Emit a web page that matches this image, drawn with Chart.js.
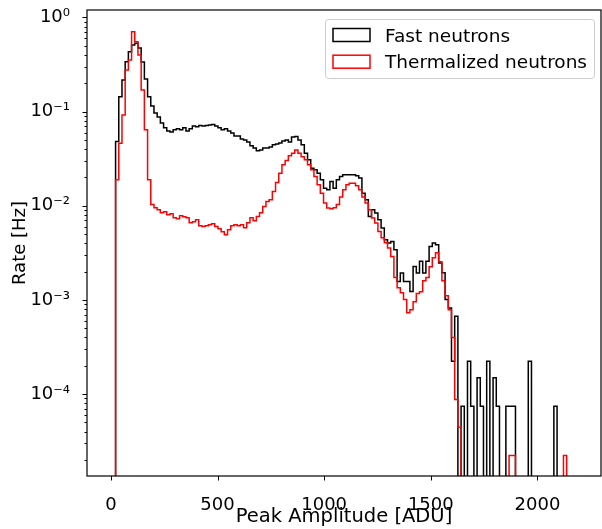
<!DOCTYPE html>
<html>
<head>
<meta charset="utf-8">
<script src="https://cdn.jsdelivr.net/npm/chart.js@4.4.0/dist/chart.umd.min.js"></script>
<style>
  html, body { margin: 0; padding: 0; background: #ffffff; }
</style>
</head>
<body>
<canvas id="grafico" width="602" height="529"></canvas>
<script>
// histogram bins (ADU) and rates (Hz)
var binStart = 22
var binWidth = 15

var fastRate = [
  0.0481, 0.144, 0.217, 0.339, 0.433, 0.510, 0.531, 0.474, 0.337, 0.222,
  0.144, 0.115, 0.0969, 0.0879, 0.0759, 0.0672, 0.0624, 0.0609, 0.0640, 0.0656,
  0.0640, 0.0672, 0.0624, 0.0656, 0.0705, 0.0689, 0.0714, 0.0705, 0.0714, 0.0723,
  0.0732, 0.0705, 0.0672, 0.0640, 0.0656, 0.0624, 0.0594, 0.0552, 0.0552, 0.0513,
  0.0501, 0.0477, 0.0433, 0.0412, 0.0383, 0.0392, 0.0412, 0.0412, 0.0422, 0.0444,
  0.0454, 0.0465, 0.0489, 0.0501, 0.0477, 0.0539, 0.0543, 0.0501, 0.0444, 0.0362,
  0.0308, 0.0251, 0.0241, 0.0222, 0.0189, 0.0154, 0.0148, 0.0181, 0.0154, 0.0189,
  0.0205, 0.0213, 0.0213, 0.0213, 0.0213, 0.0208, 0.0197, 0.0136, 0.0116, 0.00771,
  0.00908, 0.00838, 0.00711, 0.00581, 0.00436, 0.00402, 0.00418, 0.00341, 0.00157, 0.00193,
  0.00157, 0.00157, 0.00123, 0.00227, 0.00193, 0.00257, 0.00193, 0.00257, 0.00370, 0.00402,
  0.00386, 0.00247, 0.00195, 0.00101, 0.000822, 0.000223, 0.000670, 0, 0.0000743, 0,
  0.000223, 0.0000743, 0, 0.000149, 0.0000743, 0, 0.000223, 0, 0.000149, 0.0000743,
  0, 0, 0.0000743, 0.0000743, 0.0000743, 0, 0, 0, 0, 0.000223,
  0, 0, 0, 0, 0, 0, 0, 0.0000743, 0, 0,
  0, 0
]

var thermalRate = [
  0.0189, 0.0462, 0.0923, 0.277, 0.353, 0.705, 0.553, 0.399, 0.170, 0.0640,
  0.0189, 0.0103, 0.00952, 0.00908, 0.00843, 0.00864, 0.00803, 0.00822, 0.00746, 0.00728,
  0.00783, 0.00764, 0.00746, 0.00660, 0.00676, 0.00711, 0.00614, 0.00604, 0.00614, 0.00629,
  0.00644, 0.00604, 0.00570, 0.00530, 0.00493, 0.00556, 0.00614, 0.00629, 0.00614, 0.00629,
  0.00585, 0.00660, 0.00746, 0.00693, 0.00771, 0.00843, 0.00984, 0.0111, 0.0116, 0.0142,
  0.0177, 0.0222, 0.0272, 0.0302, 0.0339, 0.0362, 0.0392, 0.0362, 0.0331, 0.0308,
  0.0272, 0.0241, 0.0205, 0.0167, 0.0136, 0.0107, 0.00946, 0.00929, 0.00952, 0.0103,
  0.0124, 0.0148, 0.0167, 0.0174, 0.0174, 0.0163, 0.0148, 0.0124, 0.0107, 0.00908,
  0.00741, 0.00656, 0.00534, 0.00458, 0.00405, 0.00356, 0.00290, 0.00173, 0.00135, 0.00119,
  0.00101, 0.000733, 0.000789, 0.000959, 0.00117, 0.00122, 0.00160, 0.00173, 0.00225, 0.00281,
  0.00318, 0.00255, 0.00160, 0.00111, 0.000789, 0.000398, 0.0000877, 0.0000446, 0, 0,
  0, 0, 0, 0, 0, 0, 0, 0, 0, 0,
  0, 0, 0, 0.0000223, 0.0000223, 0, 0, 0, 0, 0,
  0, 0, 0, 0, 0, 0, 0, 0, 0, 0,
  0.0000223, 0
]

var xTicks = [0, 500, 1000, 1500, 2000]
var yDecades = [-5, -4, -3, -2, -1, 0]

var piso = 1e-7
var fonte = '"DejaVu Sans", sans-serif'
var sobrescrito = {'-': '\u207B', '0': '\u2070', '1': '\u00B9', '2': '\u00B2', '3': '\u00B3', '4': '\u2074', '5': '\u2075'}

function montarpontos(valores) {
    var pontos = [{x: binStart, y: piso}]
    valores.forEach(function(v, i) {
        pontos.push({x: binStart + i * binWidth, y: v > 0 ? v : piso})
    })
    pontos.push({x: binStart + valores.length * binWidth, y: piso})
    return pontos
}

function rotulo(v) {
    var d = Math.round(Math.log10(v))
    if (Math.abs(Math.log10(v) - d) > 1e-9) return ''
    return '10' + String(d).split('').map(function(c) { return sobrescrito[c] }).join('')
}

// frame + tick marks like matplotlib
var moldura = {
    id: 'moldura',
    afterDraw: function(chart) {
        var ctx = chart.ctx
        var a = chart.chartArea
        var xs = chart.scales.x
        var ys = chart.scales.y
        ctx.save()
        ctx.strokeStyle = '#000'
        ctx.lineWidth = 1.2
        ctx.strokeRect(a.left, a.top, a.right - a.left, a.bottom - a.top)
        ctx.beginPath()
        xTicks.forEach(function(v) {
            var px = Math.round(xs.getPixelForValue(v)) + 0.5
            ctx.moveTo(px, a.bottom)
            ctx.lineTo(px, a.bottom + 4.5)
        })
        ys.ticks.forEach(function(t) {
            var py = Math.round(ys.getPixelForValue(t.value)) + 0.5
            var len = rotulo(t.value) ? 4.5 : 2.5
            ctx.moveTo(a.left, py)
            ctx.lineTo(a.left - len, py)
        })
        ctx.lineWidth = 1
        ctx.stroke()
        ctx.restore()
    }
}

var legenda = {
    id: 'legenda',
    afterDraw: function(chart) {
        var ctx = chart.ctx
        ctx.save()
        ctx.fillStyle = 'rgba(255,255,255,0.8)'
        ctx.strokeStyle = '#cccccc'
        ctx.lineWidth = 1
        ctx.beginPath()
        ctx.roundRect(325.5, 19.5, 269, 59, 3)
        ctx.fill()
        ctx.stroke()
        ctx.font = '18.5px ' + fonte
        ctx.textBaseline = 'alphabetic'
        chart.data.datasets.forEach(function(ds, i) {
            var y = 28.5 + i * 26.7
            ctx.strokeStyle = ds.borderColor
            ctx.lineWidth = 1.5
            ctx.strokeRect(333, y, 37, 13)
            ctx.fillStyle = '#000'
            ctx.fillText(ds.label, 385, y + 13.2)
        })
        ctx.restore()
    }
}

var ctx = document.getElementById('grafico').getContext('2d')
var grafico = new Chart(ctx, {
    type: 'line',
    data: {
        datasets: [
            {
                label: 'Fast neutrons',
                data: montarpontos(fastRate),
                borderColor: '#000000',
                borderWidth: 1.5,
                stepped: true,
                pointRadius: 0,
                fill: false,
                order: 2
            },
            {
                label: 'Thermalized neutrons',
                data: montarpontos(thermalRate),
                borderColor: '#ff0000',
                borderWidth: 1.5,
                stepped: true,
                pointRadius: 0,
                fill: false,
                order: 1
            }
        ]
    },
    options: {
        responsive: false,
        animation: false,
        layout: {
            padding: { top: 10, right: 1, left: 0, bottom: 0 }
        },
        plugins: {
            legend: { display: false },
            tooltip: { enabled: false }
        },
        scales: {
            x: {
                type: 'linear',
                min: -112,
                max: 2298,
                grid: { display: false },
                border: { display: false },
                afterBuildTicks: function(s) {
                    s.ticks = xTicks.map(function(v) { return {value: v} })
                },
                afterFit: function(s) {
                    s.height = 53
                    s.paddingLeft = 0
                    s.paddingRight = 0
                },
                ticks: {
                    autoSkip: false,
                    maxRotation: 0,
                    padding: 11,
                    color: '#000',
                    font: { family: fonte, size: 18 },
                    callback: function(v) { return String(v) }
                },
                title: {
                    display: true,
                    text: 'Peak Amplitude [ADU]',
                    color: '#000',
                    font: { family: fonte, size: 19.5 },
                    padding: { top: 0, bottom: 0 }
                }
            },
            y: {
                type: 'logarithmic',
                min: 1.35e-5,
                max: 1.2,
                grid: { display: false },
                border: { display: false },
                afterBuildTicks: function(s) {
                    var t = []
                    yDecades.forEach(function(d) {
                        for (var m = 1; m < 10; m++) {
                            var v = m * Math.pow(10, d)
                            if (v >= s.min && v <= s.max) t.push({value: v})
                        }
                    })
                    s.ticks = t
                },
                afterFit: function(s) {
                    s.width = 87
                    s.paddingTop = 0
                    s.paddingBottom = 0
                },
                ticks: {
                    autoSkip: false,
                    padding: 9,
                    color: '#000',
                    font: { family: fonte, size: 18 },
                    callback: function(v) { return rotulo(v) }
                },
                title: {
                    display: true,
                    text: 'Rate [Hz]',
                    color: '#000',
                    font: { family: fonte, size: 18 },
                    padding: { top: 10, bottom: 0 }
                }
            }
        }
    },
    plugins: [moldura, legenda]
})
</script>
</body>
</html>
